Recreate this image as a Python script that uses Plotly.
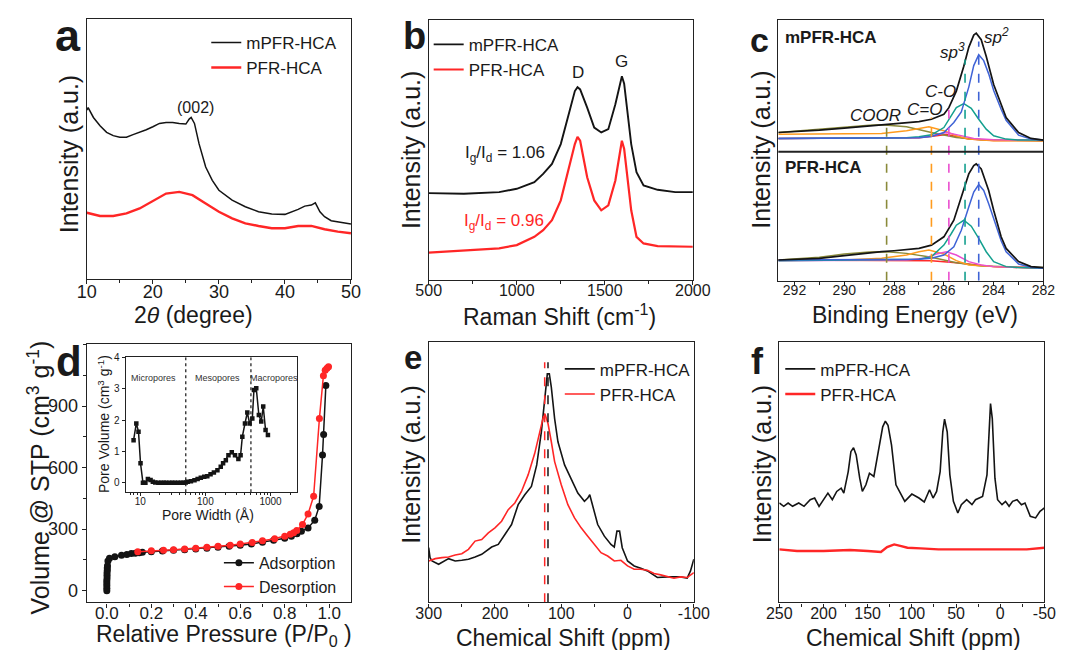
import plotly.graph_objects as go
import math

FONT = "Liberation Sans, Arial, sans-serif"
BLACK = "#141414"
RED = "#ff2626"
AX = "#222222"

# ---------------- (a) XRD ----------------
a_black_2theta = [10, 10.2, 11, 12, 13, 14, 15, 16, 17, 18, 19, 20, 21, 22, 23, 24, 25, 25.5, 25.8,
                  26.3, 27, 28, 29, 30, 32, 34, 36, 38, 40, 42, 43, 44, 44.6, 45.3, 46, 47, 48, 49, 50]
a_black_int = [510, 518, 488, 463, 443, 433, 428, 428, 436, 443, 451, 460, 470, 473, 473, 470, 468, 483, 488,
               470, 408, 338, 298, 268, 238, 218, 203, 196, 195, 210, 220, 223, 230, 203, 188, 176, 173, 168, 166]
a_red_2theta = [10, 12, 14, 16, 18, 20, 22, 24, 26, 28, 30, 32, 34, 36, 38, 40, 42, 44, 46, 48, 50]
a_red_int = [200, 190, 190, 198, 213, 236, 258, 263, 253, 228, 203, 183, 168, 160, 153, 153, 160, 160, 150, 143, 138]

# ---------------- (b) Raman ----------------
b_black_shift = [500, 700, 900, 1000, 1100, 1150, 1200, 1250, 1300, 1330, 1345, 1360, 1400, 1440, 1480, 1520,
                 1560, 1585, 1597, 1610, 1630, 1650, 1680, 1720, 1800, 1900, 2000]
b_black_int = [262, 260, 265, 275, 295, 320, 350, 410, 510, 570, 582, 575, 520, 460, 445, 455,
               530, 590, 615, 592, 500, 410, 325, 285, 272, 265, 265]
b_red_shift = [500, 700, 900, 1000, 1100, 1150, 1200, 1250, 1300, 1330, 1345, 1360, 1400, 1440, 1480, 1520,
               1560, 1585, 1597, 1610, 1630, 1650, 1680, 1720, 1800, 2000]
b_red_int = [82, 88, 95, 105, 130, 150, 180, 240, 350, 410, 432, 420, 310, 240, 210, 225,
             300, 390, 420, 395, 300, 210, 130, 110, 102, 100]

# ---------------- (c) XPS C1s ----------------
c_top_env_be = [292.65, 292, 291, 290, 289, 288, 287, 286.5, 286, 285.8, 285.5, 285.2, 285.0, 284.8, 284.7,
                284.5, 284.3, 284.0, 283.7, 283.5, 283.0, 282.5, 282]
c_top_env_int = [448, 450, 455, 461, 467, 473, 481, 488, 503, 523, 573, 648, 705, 742, 748,
                 728, 678, 593, 533, 493, 448, 430, 425]
c_top_sp2_be = [292.65, 287.0, 286.5, 286.0, 285.6, 285.3, 285.0, 284.8, 284.6, 284.4, 284.2, 284.0, 283.7,
                283.5, 283.0, 282.5, 282.0]
c_top_sp2_int = [430, 432, 436, 448, 478, 510, 585, 650, 683, 665, 625, 575, 518, 485, 440, 428, 425]
c_top_sp3_be = [292.65, 287.5, 287.0, 286.5, 286.0, 285.7, 285.5, 285.2, 284.9, 284.6, 284.3, 284.0, 283.5,
                283.0, 282.0]
c_top_sp3_int = [430, 432, 435, 441, 463, 498, 523, 535, 521, 488, 458, 438, 428, 425, 425]
c_top_co_be = [292.65, 287.5, 287.0, 286.5, 285.9, 285.4, 284.8, 284.0, 282.0]
c_top_co_int = [430, 432, 433, 438, 448, 440, 430, 426, 425]
c_top_c2o_be = [292.65, 290, 288.5, 287.5, 287.0, 286.6, 286.0, 285.5, 285.0, 284.0, 282.0]
c_top_c2o_int = [443, 443, 445, 453, 460, 465, 453, 438, 428, 423, 423]
c_top_coor_be = [292.65, 291, 290, 289, 288.5, 288.0, 287.5, 286.5, 285.5, 284.5, 282]
c_top_coor_int = [448, 458, 465, 470, 471, 469, 465, 448, 433, 426, 423]
c_top_red_be = [292.65, 288, 287, 286.3, 285.9, 285.5, 285, 284, 282]
c_top_red_int = [430, 430, 432, 438, 442, 436, 428, 424, 423]

c_bot_env_be = [292.65, 291, 290, 289, 288.5, 288, 287, 286.5, 286, 285.6, 285.3, 285.0, 284.8, 284.7, 284.5,
                284.2, 284.0, 283.7, 283.5, 283.0, 282.5, 282]
c_bot_env_int = [63, 68, 76, 85, 88, 91, 98, 108, 133, 183, 253, 323, 348, 353, 338,
                 273, 213, 133, 98, 58, 43, 40]
c_bot_sp2_be = [292.65, 287, 286.5, 286, 285.6, 285.3, 285.0, 284.8, 284.6, 284.4, 284.2, 284.0, 283.7,
                283.5, 283.0, 282.5, 282]
c_bot_sp2_int = [63, 65, 68, 78, 103, 153, 223, 268, 291, 273, 233, 188, 121, 88, 51, 41, 38]
c_bot_sp3_be = [292.65, 287.5, 287, 286.5, 286.0, 285.7, 285.5, 285.2, 284.9, 284.6, 284.3, 284.0, 283.5, 283, 282]
c_bot_sp3_int = [61, 63, 65, 73, 108, 143, 168, 183, 165, 128, 88, 58, 43, 40, 38]
c_bot_co_be = [292.65, 287.5, 286.8, 286.3, 285.9, 285.5, 285.0, 284.5, 284, 282]
c_bot_co_int = [61, 63, 68, 81, 88, 78, 58, 48, 43, 38]
c_bot_c2o_be = [292.65, 290, 288.5, 287.5, 287.0, 286.6, 286.0, 285.5, 285.0, 284, 282]
c_bot_c2o_int = [63, 63, 68, 78, 88, 93, 81, 61, 48, 43, 38]
c_bot_coor_be = [292.65, 291, 290, 289, 288.3, 287.5, 286.5, 285.5, 284.5, 282]
c_bot_coor_int = [63, 71, 81, 87, 88, 83, 71, 55, 45, 40]
c_bot_red_be = [292.65, 288, 286.5, 285.5, 285, 284, 282]
c_bot_red_int = [63, 63, 61, 55, 51, 43, 38]

c_peak_labels = ["COOR", "C=O", "C-O", "sp<sup>3</sup>", "sp<sup>2</sup>"]
c_peak_be = [288.3, 286.5, 285.8, 285.15, 284.6]
c_peak_line_top = [468, 493, 533, 668, 723]
c_peak_colors = ["#8a8a3a", "#ff9b1e", "#ea4fcf", "#14a08f", "#3f63d6"]
c_divider_int = 390

# ---------------- (d) N2 isotherm ----------------
d_ads_p = [0.0, 0.0, 0.0, 0.0, 0.0, 0.001, 0.001, 0.001, 0.002, 0.002, 0.003, 0.005, 0.012, 0.036, 0.066,
           0.09, 0.11, 0.128, 0.146, 0.16, 0.2, 0.25, 0.3, 0.35, 0.4, 0.45, 0.5, 0.55, 0.6, 0.65, 0.7, 0.75,
           0.8, 0.83, 0.855, 0.875, 0.905, 0.935, 0.955, 0.97, 0.975, 0.985]
d_ads_v = [0, 12, 25, 38, 50, 62, 75, 88, 100, 110, 122, 145, 158, 166, 173,
           177, 181, 182, 185, 187, 190, 194, 197, 200, 203, 207, 212, 217, 222, 228, 236, 246,
           256, 266, 277, 290, 306, 344, 411, 661, 761, 1000]
d_des_p = [0.139, 0.2, 0.255, 0.3, 0.35, 0.4, 0.45, 0.5, 0.555, 0.6, 0.654, 0.7, 0.755, 0.8, 0.825,
           0.84, 0.854, 0.88, 0.905, 0.93, 0.956, 0.974, 0.982, 0.99, 0.997]
d_des_v = [190, 195, 197, 200, 203, 207, 212, 217, 222, 228, 235, 243, 253, 266, 275,
           282, 293, 323, 374, 460, 839, 1048, 1075, 1085, 1092]
d_ticks = [0, 300, 600, 900]

# inset: pore size distribution
in_width = [7.9, 8.7, 9.4, 10.1, 11, 12, 13.1, 14.4, 15.6, 17, 19, 21, 23, 25, 28, 31, 34, 38, 42, 46, 50,
            53.5, 60, 68, 76, 85, 96, 107, 120, 135, 153, 172, 187, 206, 226, 254, 285, 321, 347, 369, 405,
            440, 478, 525, 556, 604, 662, 720, 772, 839, 912]
in_volume = [1.36, 1.89, 1.63, 0.62, 0.0, 0.0, 0.12, 0.09, 0.03, 0.01, 0.0, 0.0, 0.0, 0.0, 0.0, 0.0, 0.0, 0.0,
             0.0, 0.0, 0.01, 0.03, 0.05, 0.085, 0.12, 0.16, 0.19, 0.21, 0.27, 0.33, 0.40, 0.51, 0.62, 0.72,
             0.88, 0.97, 0.88, 0.76, 0.88, 1.47, 1.89, 2.24, 1.89, 2.05, 2.96, 3.01, 2.16, 1.95, 2.43, 1.68, 1.52]
in_bounds = [50, 500]
in_regions = ["Micropores", "Mesopores", "Macropores"]
in_region_x = [16.2, 155, 1120]

# ---------------- (e) 13C NMR ----------------
e_black_ppm = [300, 298, 295, 285, 270, 260, 250, 240, 230, 220, 205, 195, 185, 175, 165, 155, 145, 137, 130,
               125, 121, 118, 115, 110, 105, 95, 85, 75, 65, 60, 57, 53, 45, 35, 25, 20, 16, 12, 8, 0, -10,
               -20, -30, -45, -60, -80, -90, -95, -100]
e_black_int = [165, 135, 125, 115, 132, 125, 127, 130, 137, 145, 167, 175, 205, 235, 295, 325, 350, 415, 515,
               605, 690, 690, 650, 555, 485, 415, 370, 330, 305, 315, 325, 295, 235, 200, 175, 167, 215, 215,
               165, 125, 110, 103, 95, 75, 77, 77, 73, 95, 130]
e_red_ppm = [300, 290, 280, 270, 260, 250, 240, 230, 220, 210, 200, 190, 180, 170, 160, 150, 140, 132, 127, 124,
             120, 115, 110, 100, 90, 80, 70, 60, 50, 40, 30, 20, 10, 0, -10, -20, -30, -40, -50, -60, -70, -80,
             -90, -100]
e_red_int = [125, 132, 135, 137, 143, 147, 160, 185, 190, 210, 225, 245, 280, 300, 335, 385, 450, 515, 560, 565,
             540, 485, 425, 355, 295, 255, 225, 200, 175, 150, 140, 125, 127, 110, 100, 100, 97, 87, 83, 77, 73,
             77, 75, 90]
e_peak_ppm = [125, 120]
e_peak_top = 725

# ---------------- (f) spectra ----------------
f_black_ppm = [250, 245, 240, 235, 228, 222, 215, 210, 205, 200, 195, 190, 185, 180, 177, 172, 169, 166, 163,
               159, 156, 152, 148, 143, 138, 133, 130, 127, 123, 118, 113, 108, 100, 92, 86, 80, 76, 72, 68,
               65, 63, 60, 57, 53, 48, 44, 38, 32, 28, 20, 15, 12, 11, 9, 6, 3, -2, -6, -10, -14, -19, -24,
               -28, -34, -40, -45, -50]
f_black_int = [300, 290, 300, 290, 300, 290, 310, 315, 290, 310, 330, 310, 335, 345, 330, 395, 455, 467, 445,
               375, 335, 355, 390, 380, 455, 530, 547, 535, 475, 355, 330, 305, 327, 315, 303, 340, 315, 335,
               395, 515, 553, 515, 385, 305, 270, 295, 310, 295, 310, 320, 385, 565, 600, 555, 375, 310, 295,
               305, 290, 305, 310, 295, 300, 260, 255, 275, 285]
f_red_ppm = [250, 230, 200, 170, 150, 135, 128, 120, 112, 105, 90, 70, 50, 20, 0, -30, -50]
f_red_int = [160, 155, 155, 158, 155, 152, 167, 175, 170, 165, 163, 160, 160, 160, 160, 160, 165]

# ================= figure =================
W, H = 1077, 650


def dom_x(p0, p1):
    return [p0 / W, p1 / W]


def dom_y(p0, p1):
    return [1 - p1 / H, 1 - p0 / H]


fig = go.Figure()


def line(x, y, ax, color, width=1.6, name=None, legend=None, dash=None, mode="lines", marker=None):
    fig.add_trace(go.Scatter(
        x=x, y=y, xaxis="x" + ax, yaxis="y" + ax, mode=mode,
        line=dict(color=color, width=width, dash=dash),
        marker=marker, name=name, showlegend=name is not None,
        legend=legend if legend else "legend", hoverinfo="skip"))


# (a)
line(a_black_2theta, a_black_int, "", BLACK, 1.5, "mPFR-HCA", "legend")
line(a_red_2theta, a_red_int, "", RED, 2.4, "PFR-HCA", "legend")
# (b)
line(b_black_shift, b_black_int, "2", BLACK, 1.9, "mPFR-HCA", "legend2")
line(b_red_shift, b_red_int, "2", RED, 2.2, "PFR-HCA", "legend2")
# (c)
comp_sets = [
    (c_top_red_be, c_top_red_int, "#ff2a2a"), (c_top_coor_be, c_top_coor_int, c_peak_colors[0]),
    (c_top_c2o_be, c_top_c2o_int, c_peak_colors[1]), (c_top_co_be, c_top_co_int, c_peak_colors[2]),
    (c_top_sp3_be, c_top_sp3_int, c_peak_colors[3]), (c_top_sp2_be, c_top_sp2_int, c_peak_colors[4]),
    (c_bot_red_be, c_bot_red_int, "#ff2a2a"), (c_bot_coor_be, c_bot_coor_int, c_peak_colors[0]),
    (c_bot_c2o_be, c_bot_c2o_int, c_peak_colors[1]), (c_bot_co_be, c_bot_co_int, c_peak_colors[2]),
    (c_bot_sp3_be, c_bot_sp3_int, c_peak_colors[3]), (c_bot_sp2_be, c_bot_sp2_int, c_peak_colors[4]),
]
for xs, ys, col in comp_sets:
    line(xs, ys, "3", col, 1.5)
line(c_top_env_be, c_top_env_int, "3", BLACK, 1.7)
line(c_bot_env_be, c_bot_env_int, "3", BLACK, 1.7)
for be, top, col in zip(c_peak_be, c_peak_line_top, c_peak_colors):
    line([be, be], [0, top], "3", col, 1.6, dash="dash")
# (d)
line(d_ads_p, d_ads_v, "4", BLACK, 1.5, "Adsorption", "legend3", mode="lines+markers",
     marker=dict(color=BLACK, size=7))
line(d_des_p, d_des_v, "4", RED, 1.5, "Desorption", "legend3", mode="lines+markers",
     marker=dict(color=RED, size=7))
# inset
for b in in_bounds:
    line([b, b], [-0.3, 4], "7", BLACK, 1.2, dash="dot")
line(in_width, in_volume, "7", BLACK, 1.5, mode="lines+markers",
     marker=dict(color=BLACK, size=4.5, symbol="square"))
# (e)
line(e_black_ppm, e_black_int, "5", BLACK, 1.6, "mPFR-HCA", "legend4")
line(e_red_ppm, e_red_int, "5", RED, 1.6, "PFR-HCA", "legend4")
line([e_peak_ppm[0]] * 2, [0, e_peak_top], "5", RED, 1.5, dash="dash")
line([e_peak_ppm[1]] * 2, [0, e_peak_top], "5", BLACK, 1.5, dash="dash")
# (f)
line(f_black_ppm, f_black_int, "6", BLACK, 1.6, "mPFR-HCA", "legend5")
line(f_red_ppm, f_red_int, "6", RED, 2.4, "PFR-HCA", "legend5")


def xax(domain, anchor, rng, tickfont, **kw):
    d = dict(domain=domain, anchor=anchor, range=rng, showline=True, mirror=True, linecolor=AX,
             linewidth=1.3, ticks="outside", ticklen=4, tickwidth=1.2, tickcolor=AX, showgrid=False,
             zeroline=False, ticklabelstandoff=-8,
             tickfont=dict(size=tickfont, color="#1a1a1a", family=FONT))
    d.update(kw)
    return d


def yax_blank(domain, anchor, rng):
    return dict(domain=domain, anchor=anchor, range=rng, showline=True, mirror=True, linecolor=AX,
                linewidth=1.3, ticks="", showticklabels=False, showgrid=False, zeroline=False)


minor = lambda dt, ln=3: dict(ticks="outside", ticklen=ln, dtick=dt, tickcolor=AX, showgrid=False)

layout = dict(
    width=W, height=H, margin=dict(l=0, r=0, t=0, b=0), paper_bgcolor="white", plot_bgcolor="rgba(0,0,0,0)",
    font=dict(family=FONT, color="#1a1a1a"),
    xaxis=xax(dom_x(76, 348), "y", [10, 50], 18, dtick=10, minor=minor(5)),
    yaxis=yax_blank(dom_y(14, 276), "x", [0, 786]),
    xaxis2=xax(dom_x(428, 700), "y2", [500, 2000], 16, dtick=500, minor=minor(250)),
    yaxis2=yax_blank(dom_y(15, 277), "x2", [0, 785]),
    xaxis3=xax(dom_x(788, 1061), "y3", [292.65, 282], 14, tickvals=[292, 290, 288, 286, 284, 282],
               minor=minor(1)),
    yaxis3=yax_blank(dom_y(15, 278), "x3", [0, 788]),
    xaxis4=xax(dom_x(76, 348), "y4", [-0.09, 1.098], 17, dtick=0.2, tick0=0, tickformat=".1f",
               minor=minor(0.1), ticklabelstandoff=-9),
    yaxis4=xax(dom_y(342, 602), "x4", [-57, 1201], 18, tickvals=d_ticks, minor=minor(150),
               ticklabelstandoff=0),
    xaxis5=xax(dom_x(428, 701), "y5", [300, -100], 16, tickvals=[300, 200, 100, 0, -100],
               ticktext=["300", "200", "100", "0", "-100"], minor=minor(50)),
    yaxis5=yax_blank(dom_y(340, 602), "x5", [0, 785]),
    xaxis6=xax(dom_x(789, 1062), "y6", [250, -50], 16, tickvals=[250, 200, 150, 100, 50, 0, -50],
               ticktext=["250", "200", "150", "100", "50", "0", "-50"], minor=minor(25)),
    yaxis6=yax_blank(dom_y(340, 602), "x6", [0, 785]),
    xaxis7=xax(dom_x(116, 292), "y7", [0.776, 3.40], 10, type="log", tickvals=[10, 100, 1000],
               ticktext=["10", "100", "1000"], ticklen=3, ticklabelstandoff=-3,
               minor=dict(ticks="outside", ticklen=2, tickcolor=AX,
                          tickvals=[7, 8, 9, 20, 30, 40, 50, 60, 70, 80, 90, 200, 300, 400, 500, 600, 700,
                                    800, 900, 2000])),
    yaxis7=xax(dom_y(355, 491), "x7", [-0.3, 4], 10, dtick=1, ticklen=3, ticklabelstandoff=0),
)

leg = lambda x, y, size=17: dict(x=x / W, y=1 - y / H, xanchor="left", yanchor="top", bgcolor="rgba(0,0,0,0)",
                                 font=dict(size=size, family=FONT, color="#1a1a1a"), tracegroupgap=0)
layout["legend"] = leg(199, 20)
layout["legend2"] = leg(428, 22)
layout["legend3"] = leg(212, 545, 16)
layout["legend4"] = leg(563, 349)
layout["legend5"] = leg(790, 349)

ann = []


def txt(x, y, s, size, xref="paper", yref="paper", angle=0, bold=False, italic=False, color="#1a1a1a",
        xanchor="center"):
    if xref == "paper":
        x = x / W
    if yref == "paper":
        y = 1 - y / H
    if bold:
        s = "<b>" + s + "</b>"
    if italic:
        s = "<i>" + s + "</i>"
    ann.append(dict(x=x, y=y, xref=xref, yref=yref, text=s, showarrow=False, textangle=angle,
                    font=dict(size=size, family=FONT, color=color), xanchor=xanchor, yanchor="middle"))


# panel letters
txt(57, 31, "a", 45, bold=True)
txt(413, 31, "b", 38, bold=True)
txt(769, 35, "c", 34, bold=True)
txt(58, 359, "d", 42, bold=True)
txt(412, 355, "e", 33, bold=True)
txt(767, 359, "f", 36, bold=True)

# axis titles
XT, YT = 23, 25
txt(186, 312, "2<i>θ</i> (degree)", XT)
txt(57, 150, "Intensity (a.u.)", YT, angle=-90)
txt(563, 312, "Raman Shift (cm<sup>-1</sup>)", XT)
txt(410, 146, "Intensity (a.u.)", YT, angle=-90)
txt(929, 312, "Binding Energy (eV)", XT)
txt(770, 146, "Intensity (a.u.)", YT, angle=-90)
txt(217, 635, "Relative Pressure (P/P<sub>0</sub> )", XT)
txt(27, 476, "Volume @ STP (cm<sup>3</sup> g<sup>-1</sup>)", YT, angle=-90)
txt(567, 638, "Chemical Shift (ppm)", XT)
txt(410, 463, "Intensity (a.u.)", YT, angle=-90)
txt(927, 638, "Chemical Shift (ppm)", XT)
txt(772, 463, "Intensity (a.u.)", YT, angle=-90)

# inset titles
txt(201, 514, "Pore Width (Å)", 14)
txt(93, 422, "Pore Volume (cm<sup>3</sup> g<sup>-1</sup>)", 14, angle=-90)
for name, xv in zip(in_regions, in_region_x):
    txt(math.log10(xv), 3.33, name, 9, xref="x7", yref="y7", color="#333333")

# panel annotations
txt(26.5, 518, "(002)", 16, xref="x", yref="y")
txt(1347, 625, "D", 17, xref="x2", yref="y2")
txt(1595, 660, "G", 17, xref="x2", yref="y2")
txt(693, 380, "I<sub>g</sub>/I<sub>d</sub> = 1.06", 17, xref="x2", yref="y2", xanchor="left")
txt(690, 175, "I<sub>g</sub>/I<sub>d</sub> = 0.96", 17, xref="x2", yref="y2", xanchor="left", color=RED)
txt(292.45, 734, "mPFR-HCA", 17, xref="x3", yref="y3", bold=True, xanchor="left")
txt(292.45, 341, "PFR-HCA", 17, xref="x3", yref="y3", bold=True, xanchor="left")
c_label_x = [288.76, 286.77, 286.12, 285.67, 283.9]
c_label_y = [498, 518, 571, 693, 738]
for s, xv, yv in zip(c_peak_labels, c_label_x, c_label_y):
    txt(xv, yv, s, 17, xref="x3", yref="y3", italic=True)

layout["annotations"] = ann
layout["shapes"] = [dict(type="line", xref="x3 domain", yref="y3", x0=0, x1=1, y0=c_divider_int,
                         y1=c_divider_int, line=dict(color=AX, width=2))]

fig.update_layout(**layout)
fig.write_html("out.html")
